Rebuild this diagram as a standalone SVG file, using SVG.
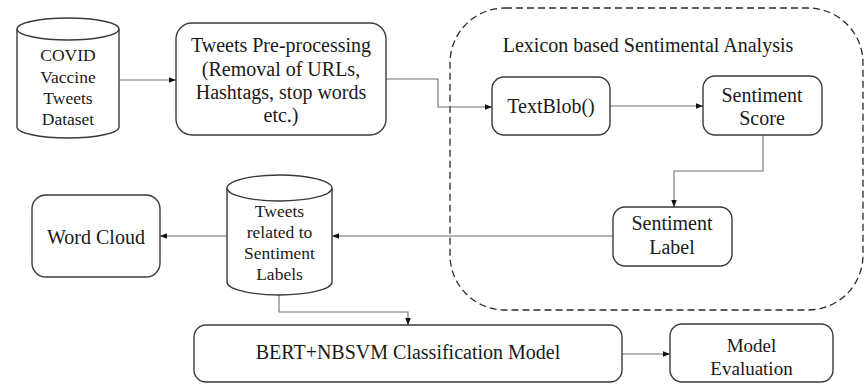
<svg xmlns="http://www.w3.org/2000/svg" width="866" height="384" viewBox="0 0 866 384">
  <defs>
    <marker id="arrow" viewBox="0 0 10 10" refX="10" refY="5" markerWidth="7" markerHeight="7" orient="auto" markerUnits="userSpaceOnUse">
      <path d="M0,1 L10,5 L0,9 z" fill="#111"/>
    </marker>
    <style>
      .box { fill: #fff; stroke: #3a3a3a; stroke-width: 1.4; }
      .group { fill: none; stroke: #2a2a2a; stroke-width: 1.3; stroke-dasharray: 7 4; }
      .link { fill: none; stroke: #6e6e6e; stroke-width: 1.1; marker-end: url(#arrow); }
      .t { font-size: 20px; fill: #1a1a1a; text-anchor: middle; }
      .s { font-size: 17.5px; }
      .m { font-size: 19px; }
    </style>
  </defs>
  <rect width="866" height="384" fill="#fff"/>

  <g font-family="Liberation Serif, Tinos, DejaVu Serif, Times New Roman, serif">
  <!-- dashed container -->
  <g id="lexicon-group">
    <rect class="group" x="450" y="8" width="413" height="302" rx="55" ry="55"/>
    <text class="t" x="648" y="52">Lexicon based Sentimental Analysis</text>
  </g>

  <!-- connectors -->
  <g id="connectors">
    <path class="link" d="M119,80 H176"/>
    <path class="link" d="M386,79 H438 V107 H492"/>
    <path class="link" d="M610,106 H703"/>
    <path class="link" d="M763,135 V171 H674 V207"/>
    <path class="link" d="M613,236 H332"/>
    <path class="link" d="M227,236 H160"/>
    <path class="link" d="M279,295 V312 H408 V325"/>
    <path class="link" d="M622,354 H670"/>
  </g>

  <g id="covid-dataset">
    <path class="box" d="M17,29 V127 A51,11 0 0 0 119,127 V29"/>
    <ellipse class="box" cx="68" cy="29" rx="51" ry="11"/>
    <text class="t s" x="68" y="61">COVID</text>
    <text class="t s" x="68" y="83">Vaccine</text>
    <text class="t s" x="68" y="104">Tweets</text>
    <text class="t s" x="68" y="125">Dataset</text>
  </g>

  <g id="preprocessing">
    <rect class="box" x="176" y="23" width="210" height="112" rx="16" ry="16"/>
    <text class="t" x="281" y="52">Tweets Pre-processing</text>
    <text class="t" x="281" y="76">(Removal of URLs,</text>
    <text class="t" x="281" y="99">Hashtags, stop words</text>
    <text class="t" x="281" y="122">etc.)</text>
  </g>

  <g id="textblob">
    <rect class="box" x="492" y="77" width="118" height="58" rx="12" ry="12"/>
    <text class="t" x="551" y="113">TextBlob()</text>
  </g>

  <g id="sentiment-score">
    <rect class="box" x="703" y="76" width="119" height="59" rx="12" ry="12"/>
    <text class="t" x="762" y="102">Sentiment</text>
    <text class="t" x="762" y="125">Score</text>
  </g>

  <g id="sentiment-label">
    <rect class="box" x="613" y="207" width="119" height="59" rx="12" ry="12"/>
    <text class="t" x="672" y="230">Sentiment</text>
    <text class="t" x="672" y="254">Label</text>
  </g>

  <g id="labelled-tweets">
    <path class="box" d="M227,188 V282 A52.5,13 0 0 0 332,282 V188"/>
    <ellipse class="box" cx="279.5" cy="188" rx="52.5" ry="13"/>
    <text class="t s" x="279.5" y="217">Tweets</text>
    <text class="t s" x="279.5" y="238">related to</text>
    <text class="t s" x="279.5" y="259">Sentiment</text>
    <text class="t s" x="279.5" y="280">Labels</text>
  </g>

  <g id="word-cloud">
    <rect class="box" x="32" y="195" width="128" height="82" rx="14" ry="14"/>
    <text class="t" x="96" y="244">Word Cloud</text>
  </g>

  <g id="classifier">
    <rect class="box" x="194" y="325" width="428" height="57" rx="12" ry="12"/>
    <text class="t" x="408" y="359">BERT+NBSVM Classification Model</text>
  </g>

  <g id="model-evaluation">
    <rect class="box" x="670" y="324" width="163" height="58" rx="12" ry="12"/>
    <text class="t m" x="751.5" y="352">Model</text>
    <text class="t m" x="751.5" y="375">Evaluation</text>
  </g>
  </g>
</svg>
